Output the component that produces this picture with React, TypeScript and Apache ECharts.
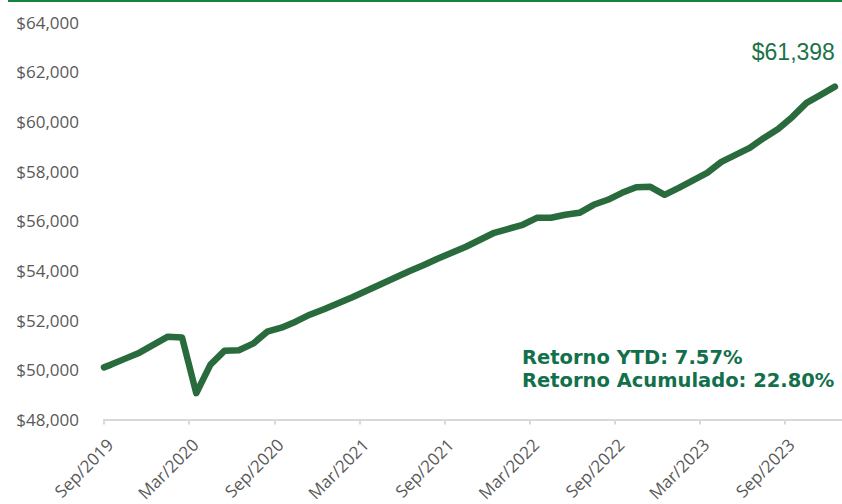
import React, { useEffect, useRef } from "react";
import * as echarts from "echarts";

// Month labels (one per data point, Sep/2019 .. Dec/2023)
const monthNames = ["Jan", "Feb", "Mar", "Apr", "May", "Jun", "Jul", "Aug", "Sep", "Oct", "Nov", "Dec"];
const startValue = 50100;
const values = [
  50211, 50452, 50693, 51015, 51337, 51300, 49060, 50211, 50774, 50790, 51055, 51537,
  51698, 51940, 52221, 52442, 52683, 52925, 53186, 53447, 53708, 53970, 54211, 54472,
  54713, 54955, 55236, 55517, 55678, 55839, 56120, 56120, 56241, 56321, 56643, 56844,
  57125, 57347, 57367, 57045, 57326, 57628, 57929, 58372, 58653, 58934, 59336, 59698,
  60180, 60743, 61065, 61398,
];
const tickLabels = [
  "Sep/2019", "Mar/2020", "Sep/2020", "Mar/2021", "Sep/2021",
  "Mar/2022", "Sep/2022", "Mar/2023", "Sep/2023",
];
const yTicks = [48000, 64000, 2000]; // min, max, interval
const ytdReturn = "7.57%";
const cumulativeReturn = "22.80%";

const months = values.map((_, i) => {
  const m = (8 + i) % 12;
  const y = 2019 + Math.floor((8 + i) / 12);
  return `${monthNames[m]}/${y}`;
});

const fmtMoney = (v: number) => "$" + Math.round(v).toLocaleString("en-US");

export default function App() {
  const ref = useRef<HTMLDivElement>(null);
  useEffect(() => {
    if (!ref.current) return;
    const chart = echarts.init(ref.current, undefined, { renderer: "svg" });
    const tickVals = tickLabels.map((_, i) => i * 6);
    const seriesData: any[] = [[0, startValue], ...values.map((v, i) => ({ value: [i + 0.5, v], name: months[i] }))];
    chart.setOption({
      animation: false,
      grid: { left: 104, right: 0, top: 22, bottom: 84, containLabel: false },
      xAxis: {
        type: "value",
        min: 0,
        max: 52,
        interval: 6,
        axisLine: { show: true, lineStyle: { color: "#d9d9d9", width: 2 } },
        axisTick: { show: true, length: 5, customValues: tickVals, lineStyle: { color: "#d9d9d9", width: 2 } },
        splitLine: { show: false },
        axisLabel: {
          customValues: tickVals,
          rotate: 45,
          margin: 16,
          verticalAlign: "top",
          color: "#595959",
          fontFamily: "Open Sans",
          fontSize: 17,
          formatter: (v: number) => tickLabels[Math.round(v / 6)] ?? "",
        },
      },
      yAxis: {
        type: "value",
        min: yTicks[0],
        max: yTicks[1],
        interval: yTicks[2],
        axisLine: { show: false },
        axisTick: { show: false },
        splitLine: { show: false },
        axisLabel: {
          margin: 25,
          color: "#595959",
          fontFamily: "Open Sans",
          fontSize: 17,
          formatter: (v: number) => fmtMoney(v),
        },
      },
      series: [
        {
          type: "line",
          data: seriesData,
          showSymbol: false,
          symbol: "none",
          clip: true,
          lineStyle: { color: "#2a6b3e", width: 6.5, cap: "round", join: "round" },
          endLabel: {
            show: true,
            formatter: (p: any) => fmtMoney(p.value[1]),
            color: "#1b7348",
            fontFamily: "Liberation Sans",
            fontSize: 23,
            align: "right",
            distance: 0,
            offset: [0, -35],
          },
        },
      ],
      graphic: [
        { type: "rect", left: 8, top: 0, shape: { width: 834, height: 2 }, style: { fill: "#14853f" } },
        {
          type: "text",
          left: 522,
          top: 346,
          style: {
            text: `Retorno YTD: ${ytdReturn}\nRetorno Acumulado: ${cumulativeReturn}`,
            font: 'bold 19.5px "DejaVu Sans"',
            fill: "#12704a",
            lineHeight: 23,
          },
        },
      ],
    });
    return () => chart.dispose();
  }, []);
  return <div ref={ref} style={{ position: "absolute", left: 0, top: 0, width: 842, height: 504 }} />;
}
